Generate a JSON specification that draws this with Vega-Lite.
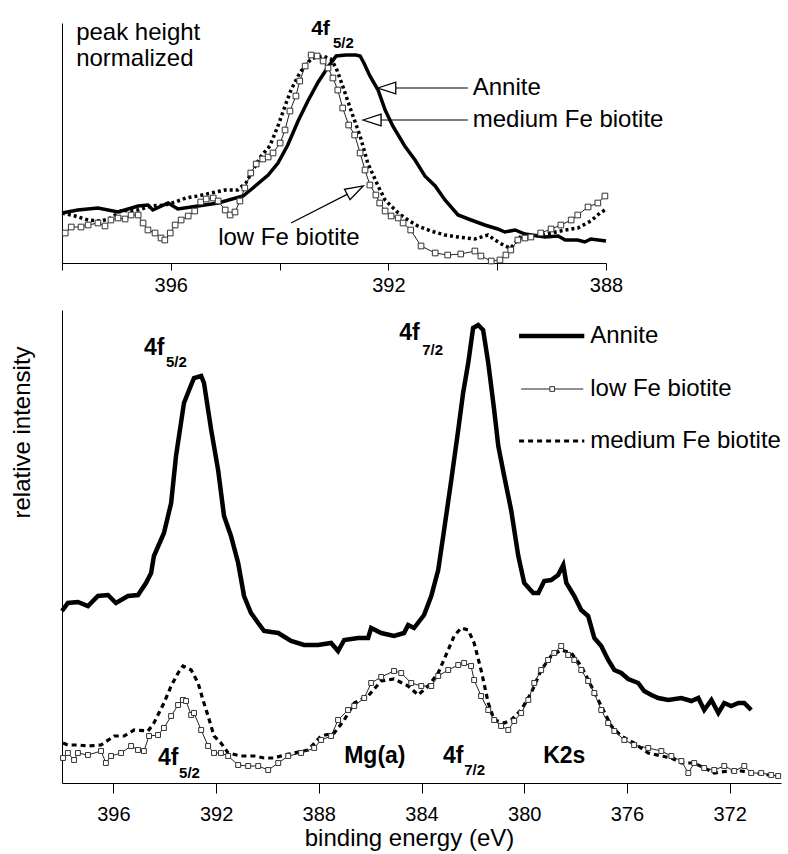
{
  "$schema": "https://vega.github.io/schema/vega-lite/v6.json",
  "background": "white",
  "padding": {"left": 10, "top": 18, "right": 5, "bottom": 5},
  "spacing": 15,
  "config": {
    "view": {"stroke": null},
    "font": "Liberation Sans",
    "axis": {
      "grid": false,
      "domainColor": "black",
      "tickColor": "black",
      "labelColor": "black",
      "titleColor": "black",
      "labelFont": "Liberation Sans",
      "titleFont": "Liberation Sans",
      "labelFontSize": 20,
      "titleFontSize": 24,
      "titleFontWeight": "normal",
      "domainWidth": 1,
      "tickWidth": 1
    },
    "text": {"font": "Liberation Sans", "color": "black"}
  },
  "datasets": {
    "topAnnite": [
      {"E":398.00,"I":50},{"E":397.71,"I":53},{"E":397.34,"I":55},{"E":396.97,"I":51},{"E":396.60,"I":57},{"E":396.42,"I":58},{"E":396.33,"I":53},{"E":396.05,"I":60},{"E":395.87,"I":54},{"E":395.50,"I":57},{"E":395.13,"I":60},{"E":394.67,"I":67},{"E":394.49,"I":75},{"E":394.21,"I":88},{"E":394.03,"I":100},{"E":393.85,"I":118},{"E":393.66,"I":142},{"E":393.48,"I":162},{"E":393.29,"I":181},{"E":393.11,"I":196},{"E":392.96,"I":207},{"E":392.78,"I":208},{"E":392.60,"I":208},{"E":392.52,"I":207},{"E":392.45,"I":200},{"E":392.34,"I":187},{"E":392.19,"I":173},{"E":392.06,"I":153},{"E":391.92,"I":137},{"E":391.70,"I":117},{"E":391.51,"I":103},{"E":391.33,"I":87},{"E":391.14,"I":77},{"E":390.96,"I":63},{"E":390.72,"I":48},{"E":390.48,"I":43},{"E":390.23,"I":38},{"E":389.99,"I":34},{"E":389.86,"I":31},{"E":389.67,"I":33},{"E":389.49,"I":29},{"E":389.12,"I":26},{"E":388.88,"I":27},{"E":388.75,"I":23},{"E":388.52,"I":23},{"E":388.39,"I":21},{"E":388.28,"I":24},{"E":388.00,"I":22}
    ],
    "topLow": [
      {"E":397.94,"I":30},{"E":397.83,"I":36},{"E":397.65,"I":36},{"E":397.52,"I":38},{"E":397.34,"I":40},{"E":397.21,"I":37},{"E":397.10,"I":43},{"E":396.97,"I":45},{"E":396.84,"I":44},{"E":396.73,"I":48},{"E":396.60,"I":48},{"E":396.51,"I":40},{"E":396.42,"I":33},{"E":396.29,"I":30},{"E":396.18,"I":25},{"E":396.11,"I":23},{"E":396.01,"I":30},{"E":395.92,"I":38},{"E":395.81,"I":43},{"E":395.68,"I":47},{"E":395.56,"I":52},{"E":395.45,"I":61},{"E":395.35,"I":64},{"E":395.22,"I":65},{"E":395.13,"I":62},{"E":395.00,"I":53},{"E":394.91,"I":48},{"E":394.82,"I":51},{"E":394.73,"I":62},{"E":394.64,"I":75},{"E":394.53,"I":90},{"E":394.43,"I":99},{"E":394.31,"I":104},{"E":394.21,"I":106},{"E":394.12,"I":110},{"E":393.99,"I":120},{"E":393.90,"I":133},{"E":393.81,"I":152},{"E":393.70,"I":167},{"E":393.63,"I":182},{"E":393.53,"I":197},{"E":393.42,"I":208},{"E":393.31,"I":207},{"E":393.20,"I":202},{"E":393.11,"I":195},{"E":393.02,"I":185},{"E":392.93,"I":173},{"E":392.84,"I":155},{"E":392.73,"I":138},{"E":392.62,"I":128},{"E":392.52,"I":110},{"E":392.43,"I":93},{"E":392.34,"I":78},{"E":392.23,"I":68},{"E":392.16,"I":60},{"E":392.06,"I":52},{"E":391.95,"I":47},{"E":391.82,"I":45},{"E":391.73,"I":40},{"E":391.59,"I":33},{"E":391.40,"I":17},{"E":391.14,"I":10},{"E":390.91,"I":8},{"E":390.67,"I":9},{"E":390.41,"I":12},{"E":390.30,"I":7},{"E":390.11,"I":2},{"E":389.95,"I":3},{"E":389.84,"I":8},{"E":389.75,"I":13},{"E":389.62,"I":23},{"E":389.49,"I":25},{"E":389.38,"I":26},{"E":389.20,"I":30},{"E":389.01,"I":34},{"E":388.83,"I":38},{"E":388.64,"I":43},{"E":388.52,"I":48},{"E":388.33,"I":56},{"E":388.15,"I":60},{"E":388.02,"I":67}
    ],
    "topMed": [
      {"E":398.00,"I":50},{"E":397.76,"I":47},{"E":397.52,"I":43},{"E":397.28,"I":42},{"E":397.10,"I":45},{"E":396.92,"I":52},{"E":396.60,"I":53},{"E":396.36,"I":57},{"E":396.11,"I":58},{"E":395.92,"I":61},{"E":395.72,"I":65},{"E":395.50,"I":67},{"E":395.26,"I":70},{"E":395.00,"I":73},{"E":394.77,"I":73},{"E":394.62,"I":80},{"E":394.49,"I":93},{"E":394.34,"I":107},{"E":394.18,"I":117},{"E":394.03,"I":137},{"E":393.90,"I":157},{"E":393.79,"I":173},{"E":393.66,"I":187},{"E":393.53,"I":198},{"E":393.39,"I":205},{"E":393.20,"I":207},{"E":393.06,"I":204},{"E":392.96,"I":195},{"E":392.84,"I":177},{"E":392.69,"I":153},{"E":392.52,"I":127},{"E":392.38,"I":100},{"E":392.19,"I":77},{"E":392.06,"I":63},{"E":391.95,"I":57},{"E":391.82,"I":50},{"E":391.64,"I":43},{"E":391.46,"I":37},{"E":391.22,"I":32},{"E":390.96,"I":28},{"E":390.72,"I":26},{"E":390.41,"I":24},{"E":390.17,"I":28},{"E":390.04,"I":23},{"E":389.86,"I":17},{"E":389.75,"I":15},{"E":389.56,"I":27},{"E":389.31,"I":27},{"E":389.01,"I":30},{"E":388.75,"I":33},{"E":388.52,"I":35},{"E":388.28,"I":42},{"E":388.11,"I":50},{"E":388.02,"I":53}
    ],
    "topTextTop": [
      {"E":397.74,"I":223,"t":"peak height"},
      {"E":397.74,"I":197,"t":"normalized"},
      {"E":395.13,"I":18,"t":"low Fe biotite"}
    ],
    "topTextMid": [
      {"E":390.45,"I":175,"t":"Annite"},
      {"E":390.45,"I":143,"t":"medium Fe biotite"}
    ],
    "topBold": [{"E":393.42,"I":228,"t":"4f"}],
    "topSub": [{"E":393.02,"I":215,"t":"5/2"}],
    "topRules": [
      {"E":391.86,"I":175,"E2":390.54,"I2":175},
      {"E":392.14,"I":143,"E2":390.54,"I2":143},
      {"E":393.79,"I":40,"E2":392.76,"I2":68.6}
    ],
    "topHeadsH": [{"E":392.03,"I":175},{"E":392.30,"I":143}],
    "topHeadsD": [{"E":392.61,"I":72.8}],
    "botAnnite": [
      {"E":398.00,"I":172},{"E":397.77,"I":180},{"E":397.38,"I":181},{"E":396.99,"I":177},{"E":396.60,"I":187},{"E":396.21,"I":188},{"E":395.90,"I":180},{"E":395.43,"I":187},{"E":395.04,"I":188},{"E":394.73,"I":200},{"E":394.53,"I":210},{"E":394.42,"I":227},{"E":394.03,"I":250},{"E":393.75,"I":280},{"E":393.56,"I":327},{"E":393.25,"I":380},{"E":393.05,"I":393},{"E":392.86,"I":405},{"E":392.58,"I":407},{"E":392.47,"I":400},{"E":392.19,"I":353},{"E":391.92,"I":313},{"E":391.69,"I":267},{"E":391.42,"I":247},{"E":391.14,"I":220},{"E":390.91,"I":187},{"E":390.64,"I":170},{"E":390.36,"I":160},{"E":390.13,"I":152},{"E":389.58,"I":150},{"E":389.08,"I":142},{"E":388.57,"I":138},{"E":388.03,"I":138},{"E":387.52,"I":140},{"E":387.25,"I":132},{"E":387.01,"I":143},{"E":386.47,"I":145},{"E":386.08,"I":145},{"E":385.96,"I":155},{"E":385.57,"I":150},{"E":385.07,"I":147},{"E":384.68,"I":150},{"E":384.52,"I":158},{"E":384.29,"I":155},{"E":383.90,"I":168},{"E":383.62,"I":187},{"E":383.35,"I":213},{"E":383.12,"I":253},{"E":382.84,"I":303},{"E":382.57,"I":353},{"E":382.38,"I":390},{"E":382.18,"I":420},{"E":381.99,"I":455},{"E":381.79,"I":458},{"E":381.60,"I":453},{"E":381.40,"I":420},{"E":381.17,"I":373},{"E":381.01,"I":337},{"E":380.78,"I":307},{"E":380.51,"I":273},{"E":380.23,"I":227},{"E":380.00,"I":200},{"E":379.65,"I":190},{"E":379.45,"I":190},{"E":379.22,"I":202},{"E":378.95,"I":203},{"E":378.68,"I":208},{"E":378.48,"I":218},{"E":378.36,"I":200},{"E":378.05,"I":187},{"E":377.78,"I":173},{"E":377.51,"I":167},{"E":377.27,"I":145},{"E":377.00,"I":137},{"E":376.73,"I":123},{"E":376.49,"I":113},{"E":376.22,"I":110},{"E":375.95,"I":104},{"E":375.56,"I":100},{"E":375.33,"I":92},{"E":375.05,"I":88},{"E":374.78,"I":85},{"E":374.39,"I":83},{"E":373.88,"I":85},{"E":373.49,"I":82},{"E":373.22,"I":85},{"E":372.99,"I":73},{"E":372.71,"I":83},{"E":372.44,"I":70},{"E":372.21,"I":80},{"E":371.94,"I":77},{"E":371.66,"I":80},{"E":371.43,"I":80},{"E":371.16,"I":73}
    ],
    "botLow": [
      {"E":397.96,"I":25},{"E":397.77,"I":30},{"E":397.53,"I":23},{"E":397.38,"I":30},{"E":396.99,"I":28},{"E":396.48,"I":32},{"E":396.29,"I":20},{"E":396.09,"I":27},{"E":395.70,"I":30},{"E":395.31,"I":37},{"E":395.04,"I":33},{"E":394.81,"I":32},{"E":394.61,"I":47},{"E":394.26,"I":48},{"E":394.03,"I":55},{"E":393.75,"I":67},{"E":393.48,"I":78},{"E":393.29,"I":83},{"E":393.17,"I":82},{"E":392.97,"I":68},{"E":392.86,"I":70},{"E":392.58,"I":53},{"E":392.31,"I":37},{"E":392.08,"I":30},{"E":391.81,"I":30},{"E":391.53,"I":27},{"E":391.14,"I":18},{"E":390.75,"I":17},{"E":390.36,"I":17},{"E":389.97,"I":13},{"E":389.58,"I":20},{"E":389.19,"I":27},{"E":388.69,"I":30},{"E":388.18,"I":35},{"E":387.91,"I":43},{"E":387.52,"I":47},{"E":387.25,"I":63},{"E":386.86,"I":73},{"E":386.62,"I":77},{"E":386.23,"I":85},{"E":385.96,"I":100},{"E":385.57,"I":106},{"E":385.07,"I":112},{"E":384.79,"I":110},{"E":384.40,"I":100},{"E":384.01,"I":97},{"E":383.62,"I":97},{"E":383.35,"I":107},{"E":382.96,"I":113},{"E":382.57,"I":118},{"E":382.34,"I":120},{"E":382.07,"I":117},{"E":381.95,"I":103},{"E":381.68,"I":87},{"E":381.40,"I":73},{"E":381.17,"I":63},{"E":380.90,"I":57},{"E":380.62,"I":53},{"E":380.39,"I":62},{"E":380.12,"I":70},{"E":379.84,"I":83},{"E":379.61,"I":100},{"E":379.34,"I":113},{"E":379.07,"I":123},{"E":378.83,"I":130},{"E":378.56,"I":137},{"E":378.29,"I":128},{"E":378.05,"I":123},{"E":377.78,"I":113},{"E":377.51,"I":102},{"E":377.27,"I":90},{"E":377.00,"I":73},{"E":376.73,"I":60},{"E":376.49,"I":52},{"E":376.10,"I":43},{"E":375.72,"I":38},{"E":375.17,"I":35},{"E":374.66,"I":32},{"E":374.27,"I":27},{"E":373.88,"I":22},{"E":373.61,"I":10},{"E":373.38,"I":20},{"E":372.99,"I":15},{"E":372.60,"I":13},{"E":372.21,"I":17},{"E":371.82,"I":12},{"E":371.43,"I":17},{"E":371.16,"I":10},{"E":370.77,"I":10},{"E":370.38,"I":8},{"E":370.11,"I":7}
    ],
    "botMed": [
      {"E":397.96,"I":40},{"E":397.77,"I":38},{"E":397.38,"I":38},{"E":396.99,"I":37},{"E":396.48,"I":38},{"E":395.97,"I":47},{"E":395.58,"I":47},{"E":395.19,"I":53},{"E":394.65,"I":52},{"E":394.42,"I":60},{"E":394.03,"I":80},{"E":393.75,"I":97},{"E":393.48,"I":110},{"E":393.29,"I":117},{"E":392.97,"I":113},{"E":392.70,"I":100},{"E":392.51,"I":83},{"E":392.31,"I":67},{"E":392.08,"I":47},{"E":391.81,"I":40},{"E":391.53,"I":30},{"E":391.03,"I":27},{"E":390.52,"I":27},{"E":390.13,"I":25},{"E":389.74,"I":25},{"E":389.35,"I":28},{"E":388.96,"I":30},{"E":388.42,"I":33},{"E":387.91,"I":47},{"E":387.40,"I":50},{"E":387.01,"I":63},{"E":386.62,"I":80},{"E":386.08,"I":87},{"E":385.57,"I":102},{"E":385.07,"I":104},{"E":384.52,"I":97},{"E":384.13,"I":88},{"E":383.74,"I":97},{"E":383.35,"I":110},{"E":382.96,"I":133},{"E":382.73,"I":147},{"E":382.46,"I":155},{"E":382.18,"I":153},{"E":381.95,"I":140},{"E":381.68,"I":113},{"E":381.40,"I":80},{"E":381.17,"I":63},{"E":380.78,"I":60},{"E":380.51,"I":63},{"E":380.12,"I":73},{"E":379.73,"I":90},{"E":379.34,"I":113},{"E":378.95,"I":127},{"E":378.56,"I":133},{"E":378.17,"I":130},{"E":377.78,"I":117},{"E":377.39,"I":97},{"E":377.00,"I":77},{"E":376.61,"I":57},{"E":376.22,"I":47},{"E":375.72,"I":40},{"E":375.17,"I":30},{"E":374.66,"I":27},{"E":374.27,"I":25},{"E":373.88,"I":20},{"E":373.38,"I":20},{"E":372.60,"I":10},{"E":372.05,"I":12},{"E":371.55,"I":12},{"E":371.04,"I":10},{"E":370.50,"I":8},{"E":370.11,"I":7}
    ],
    "botBold": [
      {"E":394.81,"I":428,"t":"4f"},
      {"E":384.87,"I":443,"t":"4f"},
      {"E":394.26,"I":18,"t":"4f"},
      {"E":387.01,"I":20,"t":"Mg(a)"},
      {"E":383.16,"I":20,"t":"4f"},
      {"E":379.26,"I":20,"t":"K2s"}
    ],
    "botSub": [
      {"E":393.95,"I":416,"t":"5/2"},
      {"E":383.97,"I":428,"t":"7/2"},
      {"E":393.44,"I":5,"t":"5/2"},
      {"E":382.34,"I":8,"t":"7/2"}
    ],
    "legAnnite": [{"E":380.20,"I":447,"E2":377.66,"I2":447}],
    "legLow": [{"E":380.12,"I":394,"E2":377.70,"I2":394}],
    "legMed": [{"E":380.20,"I":342,"E2":377.66,"I2":342}],
    "legMarker": [{"E":378.91,"I":394}],
    "legText": [
      {"E":377.43,"I":447,"t":"Annite"},
      {"E":377.43,"I":394,"t":"low Fe biotite"},
      {"E":377.43,"I":342,"t":"medium Fe biotite"}
    ]
  },
  "vconcat": [
    {
      "width": 544,
      "height": 240,
      "encoding": {
        "x": {
          "field": "E", "type": "quantitative",
          "scale": {"domain": [388, 398], "reverse": true, "nice": false, "zero": false},
          "axis": {
            "title": null,
            "values": [398, 396, 394, 392, 390, 388],
            "labelExpr": "datum.value % 4 == 0 ? datum.label : ''",
            "format": "d",
            "tickSize": 7,
            "labelPadding": 5,
            "labelFlush": false
          }
        },
        "y": {
          "field": "I", "type": "quantitative",
          "scale": {"domain": [0, 240], "nice": false, "zero": false},
          "axis": {"title": null, "labels": false, "ticks": false, "domain": true}
        }
      },
      "layer": [
        {"data": {"name": "topAnnite"}, "mark": {"type": "line", "color": "black", "strokeWidth": 3.5}},
        {"data": {"name": "topMed"}, "mark": {"type": "line", "color": "black", "strokeWidth": 3.5, "strokeDash": [3, 3]}},
        {"data": {"name": "topLow"}, "mark": {"type": "line", "color": "#222", "strokeWidth": 1}},
        {"data": {"name": "topLow"}, "mark": {"type": "point", "shape": "square", "filled": true, "fill": "white", "size": 32, "stroke": "#333", "strokeWidth": 1, "opacity": 1}},
        {"data": {"name": "topRules"}, "mark": {"type": "rule", "color": "black", "strokeWidth": 1.2},
         "encoding": {"x2": {"field": "E2"}, "y2": {"field": "I2"}}},
        {"data": {"name": "topHeadsH"}, "mark": {"type": "point", "shape": "M-1,0L1,-0.65L1,0.65Z", "size": 324, "filled": false, "stroke": "black", "strokeWidth": 1.3, "opacity": 1}},
        {"data": {"name": "topHeadsD"}, "mark": {"type": "point", "shape": "M-1,0L1,-0.65L1,0.65Z", "size": 324, "angle": 152, "filled": false, "stroke": "black", "strokeWidth": 1.3, "opacity": 1}},
        {"data": {"name": "topTextTop"}, "mark": {"type": "text", "align": "left", "baseline": "alphabetic", "fontSize": 24},
         "encoding": {"text": {"field": "t"}}},
        {"data": {"name": "topTextMid"}, "mark": {"type": "text", "align": "left", "baseline": "middle", "fontSize": 24},
         "encoding": {"text": {"field": "t"}}},
        {"data": {"name": "topBold"}, "mark": {"type": "text", "align": "left", "baseline": "alphabetic", "fontSize": 21, "fontWeight": "bold"},
         "encoding": {"text": {"field": "t"}}},
        {"data": {"name": "topSub"}, "mark": {"type": "text", "align": "left", "baseline": "alphabetic", "fontSize": 15, "fontWeight": "bold"},
         "encoding": {"text": {"field": "t"}}}
      ]
    },
    {
      "width": 719,
      "height": 473,
      "encoding": {
        "x": {
          "field": "E", "type": "quantitative",
          "scale": {"domain": [370, 398], "reverse": true, "nice": false, "zero": false},
          "axis": {
            "title": "binding energy (eV)",
            "values": [396, 392, 388, 384, 380, 376, 372],
            "format": "d",
            "tickSize": 10,
            "labelPadding": 11,
            "titlePadding": 2,
            "titleX": 347,
            "labelFlush": false
          }
        },
        "y": {
          "field": "I", "type": "quantitative",
          "scale": {"domain": [0, 473], "nice": false, "zero": false},
          "axis": {"title": "relative intensity", "labels": false, "ticks": false, "domain": true, "titlePadding": 28, "titleY": 122}
        }
      },
      "layer": [
        {"data": {"name": "botAnnite"}, "mark": {"type": "line", "color": "black", "strokeWidth": 4.5}},
        {"data": {"name": "botMed"}, "mark": {"type": "line", "color": "black", "strokeWidth": 3.2, "strokeDash": [5, 4]}},
        {"data": {"name": "botLow"}, "mark": {"type": "line", "color": "#222", "strokeWidth": 1}},
        {"data": {"name": "botLow"}, "mark": {"type": "point", "shape": "square", "filled": true, "fill": "white", "size": 24, "stroke": "#333", "strokeWidth": 1, "opacity": 1}},
        {"data": {"name": "legAnnite"}, "mark": {"type": "rule", "color": "black", "strokeWidth": 4.5},
         "encoding": {"x2": {"field": "E2"}, "y2": {"field": "I2"}}},
        {"data": {"name": "legLow"}, "mark": {"type": "rule", "color": "#222", "strokeWidth": 1},
         "encoding": {"x2": {"field": "E2"}, "y2": {"field": "I2"}}},
        {"data": {"name": "legMed"}, "mark": {"type": "rule", "color": "black", "strokeWidth": 3.2, "strokeDash": [5, 4]},
         "encoding": {"x2": {"field": "E2"}, "y2": {"field": "I2"}}},
        {"data": {"name": "legMarker"}, "mark": {"type": "point", "shape": "square", "filled": true, "fill": "white", "size": 22, "stroke": "#333", "strokeWidth": 1, "opacity": 1}},
        {"data": {"name": "legText"}, "mark": {"type": "text", "align": "left", "baseline": "middle", "fontSize": 24},
         "encoding": {"text": {"field": "t"}}},
        {"data": {"name": "botBold"}, "mark": {"type": "text", "align": "left", "baseline": "alphabetic", "fontSize": 23, "fontWeight": "bold"},
         "encoding": {"text": {"field": "t"}}},
        {"data": {"name": "botSub"}, "mark": {"type": "text", "align": "left", "baseline": "alphabetic", "fontSize": 15, "fontWeight": "bold"},
         "encoding": {"text": {"field": "t"}}}
      ]
    }
  ]
}
